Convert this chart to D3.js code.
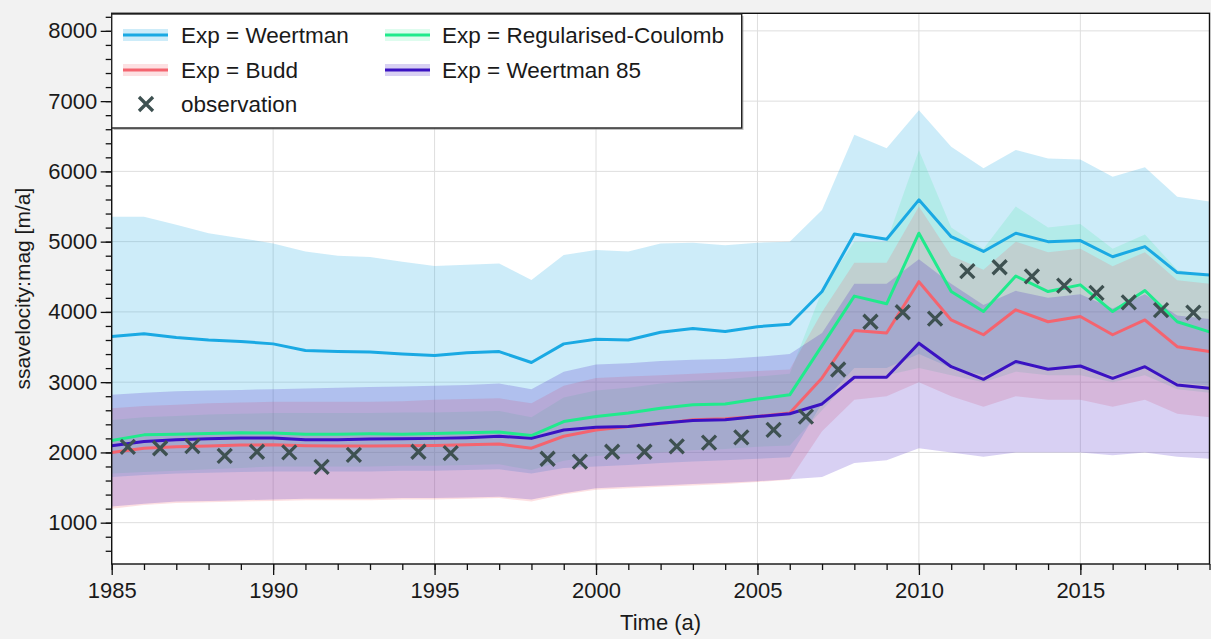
<!DOCTYPE html>
<meta charset="utf-8">
<script src="https://d3js.org/d3.v7.min.js"></script>
<style>
  body { margin: 0; background: #f2f2f2; }
  text { font-family: "Liberation Sans", Arial, sans-serif; fill: #1a1a1a; }
</style>
<body>
<div id="my_dataviz"></div>
<script>
// ---- data ----
const years = [1985, 1986, 1987, 1988, 1989, 1990, 1991, 1992, 1993, 1994, 1995, 1996,
  1997, 1998, 1999, 2000, 2001, 2002, 2003, 2004, 2005, 2006, 2007, 2008, 2009, 2010,
  2011, 2012, 2013, 2014, 2015, 2016, 2017, 2018, 2019];

const weertman   = [3650, 3690, 3635, 3600, 3580, 3545, 3450, 3435, 3430, 3400, 3380, 3420, 3435, 3280, 3545, 3610, 3600, 3710, 3765, 3720, 3790, 3825, 4290, 5110, 5035, 5595, 5070, 4860, 5120, 5000, 5015, 4785, 4930, 4560, 4525];
const weertmanHi = [5355, 5355, 5240, 5120, 5050, 4975, 4860, 4800, 4780, 4715, 4655, 4670, 4690, 4455, 4810, 4880, 4860, 4975, 4985, 4950, 4985, 5000, 5450, 6520, 6330, 6870, 6350, 6045, 6305, 6185, 6170, 5925, 6060, 5640, 5570];
const weertmanLo = [1650, 1680, 1700, 1710, 1720, 1730, 1730, 1730, 1730, 1740, 1740, 1750, 1760, 1700, 1780, 1800, 1820, 1850, 1870, 1890, 1910, 1930, 2700, 3200, 3200, 3400, 3200, 3100, 3250, 3200, 3200, 3100, 3200, 3000, 2950];

const coulomb   = [2170, 2250, 2260, 2270, 2280, 2275, 2260, 2260, 2265, 2260, 2270, 2280, 2290, 2240, 2440, 2510, 2560, 2630, 2680, 2690, 2760, 2820, 3520, 4225, 4115, 5120, 4290, 4005, 4510, 4290, 4385, 4005, 4305, 3860, 3715];
const coulombHi = [2460, 2500, 2520, 2540, 2550, 2560, 2560, 2560, 2560, 2570, 2570, 2580, 2590, 2500, 2780, 2880, 2920, 2980, 3020, 3040, 3080, 3120, 4300, 5000, 5000, 6300, 5200, 4900, 5500, 5200, 5250, 4900, 5100, 4600, 4500];
const coulombLo = [1700, 1720, 1740, 1760, 1780, 1800, 1800, 1800, 1800, 1810, 1810, 1820, 1830, 1750, 1880, 1950, 1980, 2000, 2030, 2050, 2080, 2100, 2600, 3100, 3100, 3200, 3100, 3000, 3150, 3100, 3100, 3000, 3100, 2900, 2850];

const budd   = [2000, 2060, 2080, 2090, 2105, 2108, 2095, 2090, 2090, 2095, 2100, 2110, 2120, 2060, 2230, 2320, 2370, 2410, 2465, 2480, 2510, 2560, 3060, 3735, 3700, 4430, 3885, 3675, 4030, 3860, 3935, 3675, 3885, 3505, 3435];
const buddHi = [2630, 2660, 2680, 2700, 2710, 2720, 2720, 2720, 2720, 2730, 2750, 2760, 2770, 2700, 2950, 3060, 3080, 3100, 3120, 3140, 3160, 3180, 4000, 4700, 4700, 5500, 4800, 4600, 5000, 4850, 4900, 4650, 4850, 4450, 4400];
const buddLo = [1200, 1250, 1280, 1290, 1300, 1310, 1320, 1320, 1320, 1330, 1330, 1340, 1350, 1300, 1400, 1470, 1490, 1510, 1530, 1550, 1580, 1610, 2300, 2750, 2800, 3000, 2800, 2650, 2800, 2750, 2750, 2650, 2750, 2550, 2500];

const weertman85   = [2095, 2155, 2180, 2195, 2205, 2205, 2180, 2180, 2190, 2195, 2200, 2210, 2230, 2200, 2320, 2360, 2370, 2415, 2455, 2465, 2510, 2550, 2690, 3070, 3070, 3555, 3220, 3040, 3295, 3185, 3230, 3055, 3220, 2960, 2915];
const weertman85Hi = [2820, 2850, 2870, 2880, 2890, 2900, 2910, 2920, 2930, 2940, 2950, 2960, 2980, 2900, 3150, 3250, 3270, 3300, 3320, 3330, 3360, 3400, 3700, 4400, 4400, 4750, 4400, 4100, 4300, 4200, 4250, 4050, 4250, 3950, 3900];
const weertman85Lo = [1230, 1270, 1300, 1310, 1320, 1330, 1340, 1340, 1340, 1350, 1350, 1360, 1370, 1330, 1420, 1490, 1510, 1530, 1550, 1570, 1590, 1620, 1650, 1850, 1890, 2060, 2000, 1940, 2000, 2000, 2000, 1960, 2000, 1940, 1910];

const obsYears  = [1985.5, 1986.5, 1987.5, 1988.5, 1989.5, 1990.5, 1991.5, 1992.5, 1994.5, 1995.5,
  1998.5, 1999.5, 2000.5, 2001.5, 2002.5, 2003.5, 2004.5, 2005.5, 2006.5, 2007.5, 2008.5,
  2009.5, 2010.5, 2011.5, 2012.5, 2013.5, 2014.5, 2015.5, 2016.5, 2017.5, 2018.5];
const obsValues = [2080, 2060, 2090, 1950, 2010, 2000, 1795, 1965, 2010, 1990,
  1910, 1870, 2010, 2010, 2085, 2140, 2215, 2320, 2510, 3180, 3860,
  3995, 3905, 4580, 4635, 4505, 4375, 4270, 4135, 4025, 3990];

const seriesNames = ["Exp = Weertman", "Exp = Regularised-Coulomb", "Exp = Budd", "Exp = Weertman 85"];
const seriesColors = ["#1aa9e3", "#20ea8c", "#f4646f", "#3a12c2"];
const bandOpacity = [0.22, 0.15, 0.2, 0.2];
const xMajor = [1985, 1990, 1995, 2000, 2005, 2010, 2015];
const yMajor = [1000, 2000, 3000, 4000, 5000, 6000, 7000, 8000];

const series = [
  {name: seriesNames[0], color: seriesColors[0], op: bandOpacity[0], mean: weertman, lo: weertmanLo, hi: weertmanHi},
  {name: seriesNames[1], color: seriesColors[1], op: bandOpacity[1], mean: coulomb, lo: coulombLo, hi: coulombHi},
  {name: seriesNames[2], color: seriesColors[2], op: bandOpacity[2], mean: budd, lo: buddLo, hi: buddHi},
  {name: seriesNames[3], color: seriesColors[3], op: bandOpacity[3], mean: weertman85, lo: weertman85Lo, hi: weertman85Hi}
];

// ---- layout ----
const W = 1211, H = 639;
const margin = {top: 13.3, right: 1.5, bottom: 75, left: 111.7};
const width = W - margin.left - margin.right,
      height = H - margin.top - margin.bottom;

const svg = d3.select("#my_dataviz").append("svg")
  .attr("width", W).attr("height", H)
  .style("display", "block");

const g = svg.append("g").attr("transform", `translate(${margin.left},${margin.top})`);

const x = d3.scaleLinear().domain([1985, 2019]).range([0, width]);
const y = d3.scaleLinear().domain([412, 8250]).range([height, 0]);

g.append("rect").attr("width", width).attr("height", height).attr("fill", "#fff");

// grid
g.append("g").selectAll("line").data(xMajor).join("line")
  .attr("x1", d => x(d)).attr("x2", d => x(d)).attr("y1", 0).attr("y2", height)
  .attr("stroke", "#dedede").attr("stroke-width", 1);
g.append("g").selectAll("line").data(yMajor).join("line")
  .attr("y1", d => y(d)).attr("y2", d => y(d)).attr("x1", 0).attr("x2", width)
  .attr("stroke", "#dedede").attr("stroke-width", 1);

const area = d3.area().x((d, i) => x(years[i]));
const line = d3.line().x((d, i) => x(years[i])).y(d => y(d));

// bands first, lines on top
const bands = g.append("g"), lines = g.append("g");
series.forEach(s => {
  bands.append("path").datum(s.mean)
    .attr("d", area.y0((d, i) => y(s.lo[i])).y1((d, i) => y(s.hi[i])))
    .attr("fill", s.color).attr("fill-opacity", s.op);
  lines.append("path").datum(s.mean)
    .attr("d", line)
    .attr("fill", "none").attr("stroke", s.color)
    .attr("stroke-width", 3).attr("stroke-linejoin", "round");
});

// observations
const obs = obsYears.map((d, i) => [x(d), y(obsValues[i])]);
g.append("g").selectAll("path").data(obs).join("path")
  .attr("d", d => `M${d[0]-7},${d[1]-7}L${d[0]+7},${d[1]+7}M${d[0]+7},${d[1]-7}L${d[0]-7},${d[1]+7}`)
  .attr("stroke", "#3e5151").attr("stroke-width", 3.3).attr("fill", "none");

// axes
g.append("g").attr("transform", `translate(0,${height})`)
  .call(d3.axisBottom(x).tickValues(xMajor).tickFormat(d3.format("d")).tickSize(11).tickPadding(7));
g.append("g").attr("transform", `translate(0,${height})`)
  .call(d3.axisBottom(x).tickValues(years).tickFormat("").tickSize(6));
g.append("g")
  .call(d3.axisLeft(y).tickValues(yMajor).tickFormat(d3.format("d")).tickSize(11).tickPadding(3.5));
g.append("g")
  .call(d3.axisLeft(y).tickValues(d3.range(600, 8201, 200)).tickFormat("").tickSize(6));

g.selectAll(".domain").remove();
g.selectAll(".tick line").attr("stroke", "#111").attr("stroke-width", 1.3);
g.selectAll(".tick text").style("font-size", "22px").attr("fill", "#1a1a1a");

g.append("rect").attr("width", width).attr("height", height)
  .attr("fill", "none").attr("stroke", "#111").attr("stroke-width", 1.4);

svg.append("text").attr("x", margin.left + width / 2).attr("y", 630)
  .attr("text-anchor", "middle").style("font-size", "22px").text("Time (a)");
svg.append("text").attr("transform", `translate(30,${margin.top + height / 2}) rotate(-90)`)
  .attr("text-anchor", "middle").style("font-size", "21px").text("ssavelocity:mag [m/a]");

// legend
const leg = svg.append("g");
leg.append("rect").attr("x", 113.5).attr("y", 16).attr("width", 630).attr("height", 114)
  .attr("fill", "#9a9a9a").attr("opacity", 0.6);
leg.append("rect").attr("x", 111.7).attr("y", 14).attr("width", 630).attr("height", 114)
  .attr("fill", "#fff").attr("stroke", "#222").attr("stroke-width", 1.4);

const legItems = [
  {s: series[0], col: 0, row: 0}, {s: series[1], col: 1, row: 0},
  {s: series[2], col: 0, row: 1}, {s: series[3], col: 1, row: 1}
];
const colX = [123, 385], rowY = [35, 70, 104], textX = [181, 442], baseY = [43, 78, 112];
legItems.forEach(it => {
  leg.append("rect").attr("x", colX[it.col]).attr("y", rowY[it.row] - 6)
    .attr("width", 45).attr("height", 12)
    .attr("fill", it.s.color).attr("fill-opacity", it.s.op);
  leg.append("line").attr("x1", colX[it.col]).attr("x2", colX[it.col] + 45)
    .attr("y1", rowY[it.row]).attr("y2", rowY[it.row])
    .attr("stroke", it.s.color).attr("stroke-width", 3);
  leg.append("text").attr("x", textX[it.col]).attr("y", baseY[it.row])
    .style("font-size", "22.5px").text(it.s.name);
});
const mx = 146, my = rowY[2];
leg.append("path")
  .attr("d", `M${mx-7},${my-7}L${mx+7},${my+7}M${mx+7},${my-7}L${mx-7},${my+7}`)
  .attr("stroke", "#3e5151").attr("stroke-width", 3.3);
leg.append("text").attr("x", textX[0]).attr("y", baseY[2])
  .style("font-size", "22.5px").text("observation");
</script>
</body>
